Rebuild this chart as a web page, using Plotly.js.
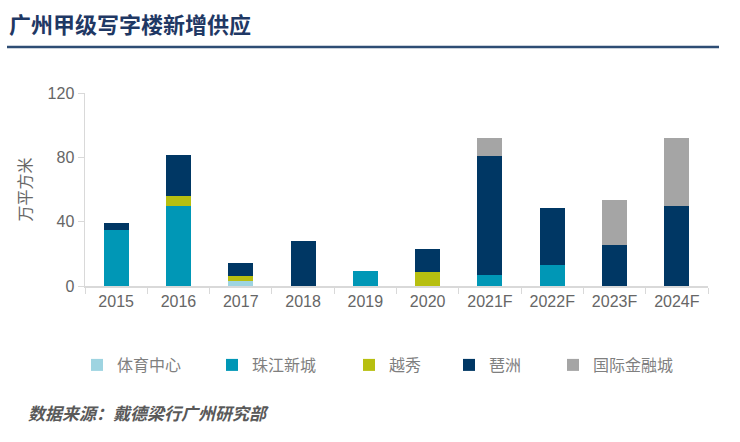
<!DOCTYPE html>
<html><head><meta charset="utf-8">
<script src="https://cdn.plot.ly/plotly-3.0.1.min.js"></script>
<style>html,body{margin:0;padding:0;background:#fff;}#chart{width:740px;height:442px;}</style>
</head><body><div id="chart"></div>
<script>
const categories = ["2015","2016","2017","2018","2019","2020","2021F","2022F","2023F","2024F"];
const seriesNames = ["体育中心","珠江新城","越秀","琶洲","国际金融城"];
const tiyu    = [0, 0, 3, 0, 0, 0, 0, 0, 0, 0];
const zhujiang= [35, 50, 0, 0, 9.5, 0, 7, 13, 0, 0];
const yuexiu  = [0, 6, 3, 0, 0, 8.5, 0, 0, 0, 0];
const pazhou  = [4, 25.5, 8, 28, 0, 14.5, 74, 35.5, 25.3, 50];
const ifc     = [0, 0, 0, 0, 0, 0, 11, 0, 28, 42];
const colors = ["#9ED4E1","#0097B6","#B7BF10","#003764","#A5A5A5"];
const yTicks = [0, 40, 80, 120];

const seriesVals = [tiyu, zhujiang, yuexiu, pazhou, ifc];
const cjk = '"Noto Sans CJK SC", "Liberation Sans", sans-serif';
const num = '"Liberation Sans", Arial, sans-serif';
const legendIds = ['legend','legend2','legend3','legend4','legend5'];
const legendCenters = [98, 233, 370, 470, 574];
const traces = seriesNames.map((n,i)=>({
  type:'bar', name:n, x:categories, y:seriesVals[i], legend:legendIds[i],
  marker:{color:colors[i], line:{width:0}}, hoverinfo:'skip'
}));
const L=85, R=32, T=93, B=156, W=740-L-R, H=442-T-B;
const px = v => (v-L)/W, py = v => (442-B-v)/H;
const layout = {
  width:740, height:442, barmode:'stack', bargap:0.6,
  margin:{l:L, r:R, t:T, b:B, pad:0},
  paper_bgcolor:'#fff', plot_bgcolor:'#fff',
  showlegend:true,
  xaxis:{type:'category', showline:true, linecolor:'#D9D9D9', linewidth:1.5,
    ticks:'outside', tickson:'boundaries', ticklen:6, tickcolor:'#D9D9D9', tickwidth:1,
    tickfont:{family:num, size:16, color:'#666666'}, showgrid:false, zeroline:false, fixedrange:true},
  yaxis:{range:[0,120], tickvals:yTicks, ticktext:yTicks.map(String), showline:true, linecolor:'#D9D9D9', linewidth:1.5,
    ticks:'outside', ticklen:6, tickcolor:'#D9D9D9', showgrid:false, zeroline:false,
    tickfont:{family:num, size:16, color:'#666666'},
    title:{text:'万平方米', font:{family:cjk, size:16, color:'#666666'}, standoff:12}},
  title:{text:'<b>广州甲级写字楼新增供应</b>', font:{family:cjk, size:22, color:'#1F3864'},
    x:9/740, xanchor:'left', y:1-25/442, yanchor:'middle', xref:'container', yref:'container'},
  shapes:[{type:'line', xref:'paper', yref:'paper', x0:px(7), x1:px(719), y0:py(47), y1:py(47),
    line:{color:'#2E4D74', width:2.5}}],
  annotations:[{text:'<b><i>数据来源：戴德梁行广州研究部</i></b>', xref:'paper', yref:'paper',
    x:px(26), y:py(412), xanchor:'left', yanchor:'middle', showarrow:false,
    font:{family:cjk, size:17, color:'#595959'}}]
};
legendIds.forEach((id,i)=>{
  layout[id] = {orientation:'h', x:px(legendCenters[i]-21), y:py(365), xanchor:'left', yanchor:'middle',
    font:{family:cjk, size:16, color:'#7F7F7F'}, itemwidth:30, bgcolor:'rgba(0,0,0,0)'};
});
Plotly.newPlot('chart', traces, layout, {displayModeBar:false, staticPlot:true});
</script></body></html>
